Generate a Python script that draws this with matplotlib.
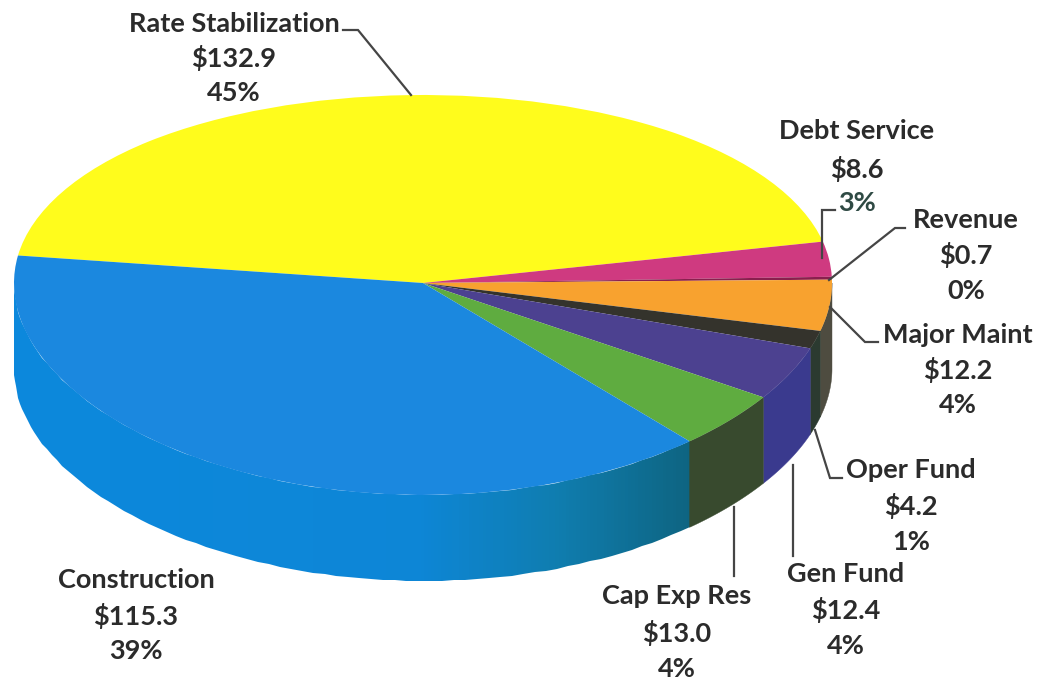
import numpy as np
import matplotlib
matplotlib.use('Agg')
import matplotlib.pyplot as plt
from matplotlib.patches import Polygon
from matplotlib.colors import LinearSegmentedColormap

names = ['Rate Stabilization', 'Debt Service', 'Revenue', 'Major Maint',
         'Oper Fund', 'Gen Fund', 'Cap Exp Res', 'Construction']
values = [132.9, 8.6, 0.7, 12.2, 4.2, 12.4, 13.0, 115.3]
value_labels = ['$132.9', '$8.6', '$0.7', '$12.2', '$4.2', '$12.4', '$13.0', '$115.3']
pct_labels = ['45%', '3%', '0%', '4%', '1%', '4%', '4%', '39%']

top_colors = ['#FFFC1C', '#CF3A80', '#8A1F4E', '#F8A22F', '#34332C', '#4C4190', '#5FAC40', '#1B88DF']
side_colors = ['#B0A810', '#8E2858', '#5E1535', '#4E4C40', '#2B3A30', '#3A3A8E', '#384A2E', '#0C88DC']

W, H = 1048, 681
CX, CY, RX = 423, 283, 409
UP, DOWN = 188, 212
DEPTH = 86
a = 2 / (1 / UP + 1 / DOWN)
b = a / UP - 1


def f(y):
    y = np.asarray(y, dtype=float)
    return a * y / (1 + b * y)


def finv(u):
    u = np.asarray(u, dtype=float)
    return u / (a - b * u)


fig = plt.figure(figsize=(W / 100, H / 100), dpi=100)
ax = fig.add_axes([0, 0, 1, 1])
wedges, _ = ax.pie(values, colors=top_colors, startangle=172, counterclock=False,
                   radius=1, wedgeprops=dict(linewidth=0), frame=True)
ax.set_aspect('auto')
ax.set_yscale('function', functions=(f, finv))
ax.set_xlim(-CX / RX, (W - CX) / RX)
ax.set_ylim(float(finv(CY - H)), float(finv(CY)))
ax.axis('off')


def side_polygon(t1, t2):
    th = np.radians(np.linspace(t1, t2, 80))
    xs = np.cos(th)
    ys = np.sin(th)
    low = finv(f(ys) - DEPTH)
    return np.r_[np.c_[xs, ys], np.c_[xs, low][::-1]]


blue_grad = LinearSegmentedColormap.from_list(
    'blueside', [(0, '#0C88DC'), (0.6, '#0D86D6'), (0.8, '#0F7DB0'), (1, '#0E6480')])

for w, sc in zip(wedges, side_colors):
    lo, hi = w.theta1 % 360, w.theta2 % 360
    if hi <= lo:
        hi += 360
    # visible front rim runs from 180 to 360 degrees
    t1 = max(lo, 180)
    t2 = min(hi, 360)
    if t2 <= t1:
        continue
    poly = side_polygon(t1, t2)
    if sc == side_colors[-1]:
        patch = Polygon(poly, closed=True, fc='none', ec='none', transform=ax.transData)
        ax.add_patch(patch)
        gx = np.linspace(-1.02, np.cos(np.radians(t2)) + 0.01, 200)
        gy = np.array([-2.0, 0.2])
        mesh = ax.pcolormesh(gx, gy, (gx[:-1] + gx[1:])[None, :] / 2, cmap=blue_grad,
                             shading='flat', vmin=-1.02, vmax=gx[-1], zorder=0.5)
        mesh.set_clip_path(patch)
    else:
        ax.add_patch(Polygon(poly, closed=True, fc=sc, ec=sc, lw=0.3, zorder=0.6))

ax.set_xlim(-CX / RX, (W - CX) / RX)
ax.set_ylim(float(finv(CY - H)), float(finv(CY)))

ov = fig.add_axes([0, 0, 1, 1], facecolor='none')
ov.set_xlim(0, W)
ov.set_ylim(H, 0)
ov.axis('off')

label_x = [234, 857, 966, 958, 911, 846, 677, 136]
label_y = [(24, 58, 93), (131, 169, 203), (220, 255, 291), (335, 370, 405),
           (470, 506, 542), (574, 610, 646), (596, 633, 669), (580, 616, 651)]
leaders = [[(343, 30), (358, 30), (411, 95)],
           [(835, 210), (822, 210), (822, 258)],
           [(905, 228), (895, 228), (829, 280)],
           [(878, 342), (865, 342), (830, 307)],
           [(842, 478), (830, 478), (815, 430)],
           [(793, 465), (793, 556)],
           [(734, 507), (734, 576)]]

for pts in leaders:
    px, py = zip(*pts)
    ov.plot(px, py, color='#454545', lw=1.6, solid_joinstyle='miter')

for i, (x, ys) in enumerate(zip(label_x, label_y)):
    for txt, y in zip((names[i], value_labels[i].replace('$', r'\$'), pct_labels[i]), ys):
        color = '#2F4A44' if txt == '3%' else '#2B2B2B'
        ov.text(x, y, txt, ha='center', va='center', fontsize=19.5, fontweight='bold',
                family='Lato', color=color)

fig.savefig('out.png', dpi=100)
